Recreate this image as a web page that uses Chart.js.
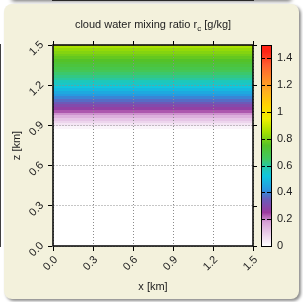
<!DOCTYPE html>
<html>
<head>
<meta charset="utf-8">
<script src="https://cdn.jsdelivr.net/npm/chart.js@4"></script>
<style>
html, body { margin: 0; padding: 0; background: #fff; }
#wrap { position: relative; width: 303px; height: 302px; overflow: hidden; }
#topshade { position: absolute; left: 12px; right: 12px; top: -8px; height: 8px; background: #ccc; box-shadow: 0 1px 4px rgba(0,0,0,0.6); }
#panel { position: absolute; left: 4px; top: 4px; width: 295px; height: 295px; background: #f3f1dc; border-radius: 8px; box-shadow: 2px 2px 3px rgba(0,0,0,0.45); }
canvas { position: absolute; left: 0; top: 0; }
</style>
</head>
<body>
<div id="wrap">
  <div id="topshade"></div>
  <div id="panel"></div>
  <canvas id="field" width="303" height="302"></canvas>
</div>
<script>
// profile of cloud water (g/kg) with height, same across x
var zCenters = [0.87, 0.89, 0.91, 0.93, 0.95, 0.97, 0.99, 1.01, 1.03, 1.05, 1.07,
                1.09, 1.11, 1.13, 1.15, 1.17, 1.19, 1.21, 1.23, 1.25, 1.27, 1.29,
                1.31, 1.33, 1.35, 1.37, 1.39, 1.41, 1.43, 1.45, 1.47, 1.49];
var rcValues = [0.0, 0.02, 0.05, 0.08, 0.11, 0.15, 0.19, 0.23, 0.27, 0.30, 0.34,
                0.37, 0.40, 0.43, 0.46, 0.49, 0.52, 0.55, 0.57, 0.60, 0.62, 0.64,
                0.67, 0.69, 0.71, 0.73, 0.75, 0.77, 0.79, 0.81, 0.83, 0.86];
var dz = 0.02;
var xRange = [0, 1.5];

var axisTickLabels = ['0.0', '0.3', '0.6', '0.9', '1.2', '1.5'];
var cbTickLabels = ['0', '0.2', '0.4', '0.6', '0.8', '1', '1.2', '1.4'];

// colour map stops
var cmap = [
  [0.00, [255, 255, 255]],
  [0.18, [214, 160, 214]],
  [0.25, [156, 58, 158]],
  [0.35, [104, 92, 186]],
  [0.42, [40, 150, 224]],
  [0.52, [16, 198, 222]],
  [0.58, [32, 200, 180]],
  [0.65, [64, 200, 96]],
  [0.75, [84, 194, 40]],
  [0.85, [164, 224, 0]],
  [0.95, [240, 240, 0]],
  [1.05, [255, 212, 0]],
  [1.15, [255, 176, 32]],
  [1.25, [255, 138, 40]],
  [1.35, [255, 96, 48]],
  [1.45, [255, 36, 20]]
];

function colorFor(v) {
  if (v <= cmap[0][0]) return 'rgb(' + cmap[0][1].join(',') + ')';
  for (var i = 1; i < cmap.length; i++) {
    if (v <= cmap[i][0]) {
      var a = cmap[i - 1], b = cmap[i];
      var t = (v - a[0]) / (b[0] - a[0]);
      var c = a[1].map(function (q, k) { return Math.round(q + (b[1][k] - q) * t); });
      return 'rgb(' + c.join(',') + ')';
    }
  }
  return 'rgb(' + cmap[cmap.length - 1][1].join(',') + ')';
}

var FONT = '"Liberation Sans", Arial, sans-serif';
Chart.defaults.font.family = FONT;
Chart.defaults.font.size = 11;
Chart.defaults.color = '#222';

var ROT = 45 * Math.PI / 180;

var heatmap = {
  id: 'heatmap',
  beforeDatasetsDraw: function (chart) {
    var ctx = chart.ctx, a = chart.chartArea;
    var xs = chart.scales.x, ys = chart.scales.y;
    ctx.save();
    ctx.fillStyle = '#fff';
    ctx.fillRect(a.left, a.top, a.right - a.left, a.bottom - a.top);
    var x0 = xs.getPixelForValue(xRange[0]), x1 = xs.getPixelForValue(xRange[1]);
    for (var i = 0; i < zCenters.length; i++) {
      var top = ys.getPixelForValue(zCenters[i] + dz / 2);
      var bot = ys.getPixelForValue(zCenters[i] - dz / 2);
      ctx.fillStyle = colorFor(rcValues[i]);
      ctx.fillRect(x0, Math.floor(top), x1 - x0, Math.ceil(bot) - Math.floor(top));
    }
    ctx.restore();
  },
  afterDraw: function (chart) {
    var ctx = chart.ctx, a = chart.chartArea;
    var xs = chart.scales.x, ys = chart.scales.y, cb = chart.scales.cb;
    ctx.save();
    // frame and mirrored ticks
    ctx.strokeStyle = '#000';
    ctx.lineWidth = 1.5;
    ctx.strokeRect(a.left, a.top, a.right - a.left, a.bottom - a.top);
    ctx.lineWidth = 1;
    ctx.beginPath();
    xs.ticks.forEach(function (t) {
      var px = Math.round(xs.getPixelForValue(t.value)) + 0.5;
      ctx.moveTo(px, a.top - 4); ctx.lineTo(px, a.top);
    });
    ys.ticks.forEach(function (t) {
      var py = Math.round(ys.getPixelForValue(t.value)) + 0.5;
      ctx.moveTo(a.right, py); ctx.lineTo(a.right + 4, py);
    });
    ctx.stroke();

    // rotated tick labels
    ctx.fillStyle = '#222';
    ctx.font = '11px ' + FONT;
    ctx.textAlign = 'right';
    ctx.textBaseline = 'middle';
    xs.ticks.forEach(function (t, i) {
      var px = xs.getPixelForValue(t.value);
      ctx.save();
      ctx.translate(px + 3, a.bottom + 12);
      ctx.rotate(-ROT);
      ctx.fillText(axisTickLabels[i], 0, 0);
      ctx.restore();
    });
    ys.ticks.forEach(function (t, i) {
      var py = ys.getPixelForValue(t.value);
      ctx.save();
      ctx.translate(a.left - 11, py - 2);
      ctx.rotate(-ROT);
      ctx.fillText(axisTickLabels[i], 0, 0);
      ctx.restore();
    });

    // colour bar
    var bl = cb.left + 8, bw = 10;
    var btop = cb.getPixelForValue(1.5), bbot = cb.getPixelForValue(0);
    for (var p = Math.floor(btop); p < bbot; p++) {
      ctx.fillStyle = colorFor(cb.getValueForPixel(p + 0.5));
      ctx.fillRect(bl, p, bw, 1);
    }
    ctx.strokeStyle = '#000';
    ctx.lineWidth = 1;
    ctx.strokeRect(bl + 0.5, btop + 0.5, bw, bbot - btop);
    ctx.beginPath();
    cb.ticks.forEach(function (t) {
      var py = Math.round(cb.getPixelForValue(t.value)) + 0.5;
      ctx.moveTo(bl, py); ctx.lineTo(bl + 4, py);
      ctx.moveTo(bl + bw - 4, py); ctx.lineTo(bl + bw, py);
    });
    ctx.stroke();

    // title with subscript
    var cx = (a.left + a.right) / 2, cy = 24;
    var f1 = '11px ' + FONT, f2 = '8px ' + FONT;
    var s1 = 'cloud water mixing ratio r', s2 = 'c', s3 = ' [g/kg]';
    ctx.font = f1; var w1 = ctx.measureText(s1).width, w3 = ctx.measureText(s3).width;
    ctx.font = f2; var w2 = ctx.measureText(s2).width;
    var sx = cx - (w1 + w2 + w3) / 2;
    ctx.fillStyle = '#222';
    ctx.textBaseline = 'alphabetic';
    ctx.textAlign = 'left';
    ctx.font = f1; ctx.fillText(s1, sx, cy + 4);
    ctx.font = f2; ctx.fillText(s2, sx + w1, cy + 7);
    ctx.font = f1; ctx.fillText(s3, sx + w1 + w2, cy + 4);
    ctx.restore();
  }
};

var gridOpts = {
  color: '#8c8c8c',
  tickColor: '#000',
  tickBorderDash: [],
  tickLength: 5,
  z: 1
};
var borderOpts = { color: '#000', width: 1.5, dash: [1, 2] };

new Chart(document.getElementById('field'), {
  type: 'scatter',
  data: { datasets: [{ data: [] }] },
  options: {
    responsive: false,
    animation: false,
    layout: { padding: { left: 10, right: 10, top: 45, bottom: 8 } },
    plugins: { legend: { display: false }, tooltip: { enabled: false } },
    scales: {
      x: {
        type: 'linear', position: 'bottom', min: 0, max: 1.5,
        afterFit: function (s) { s.height = 48; },
        ticks: { stepSize: 0.3, display: false },
        grid: gridOpts,
        border: borderOpts,
        title: { display: true, text: 'x [km]', padding: 0 }
      },
      y: {
        type: 'linear', position: 'left', min: 0, max: 1.5,
        afterFit: function (s) { s.width = 43; },
        ticks: { stepSize: 0.3, display: false },
        grid: gridOpts,
        border: borderOpts,
        title: { display: true, text: 'z [km]', padding: 0 }
      },
      cb: {
        type: 'linear', position: 'right', min: 0, max: 1.5,
        afterFit: function (s) { s.width = 40; },
        ticks: { stepSize: 0.2, padding: 24, includeBounds: false,
                 callback: function (v, i) { return cbTickLabels[i]; } },
        grid: { drawOnChartArea: false, drawTicks: false },
        border: { display: false }
      }
    }
  },
  plugins: [heatmap]
});
</script>
</body>
</html>
